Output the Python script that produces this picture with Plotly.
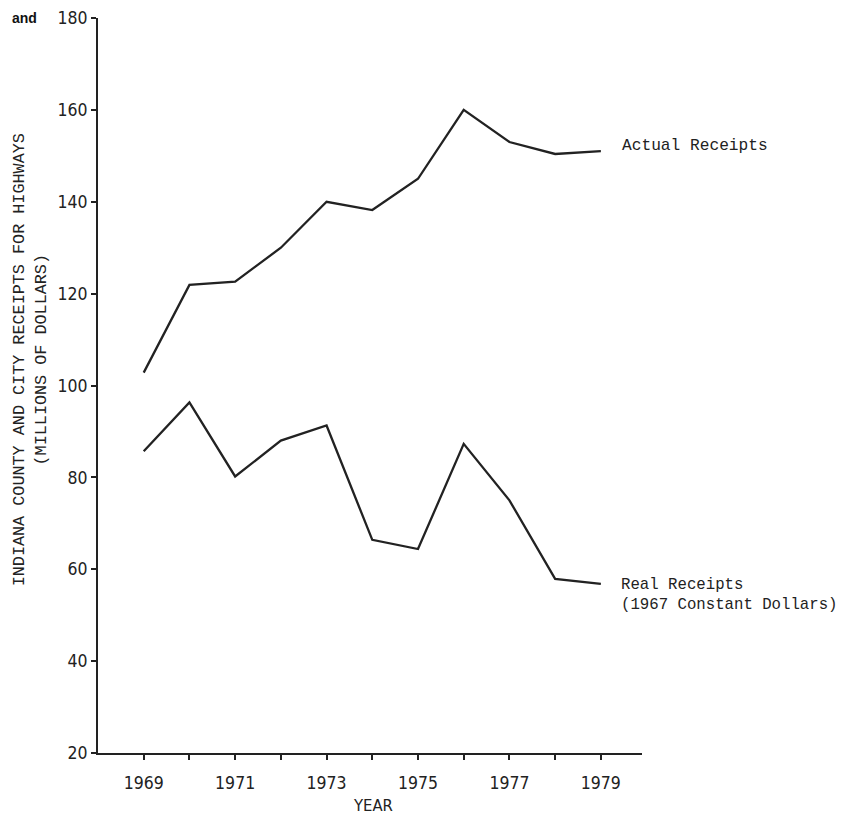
import plotly.graph_objects as go

years = [1969, 1970, 1971, 1972, 1973, 1974, 1975, 1976, 1977, 1978, 1979]
actual = [102.8, 121.9, 122.6, 130.0, 140.0, 138.2, 145.0, 160.0, 153.0, 150.4, 151.0]
real = [85.7, 96.3, 80.2, 88.0, 91.3, 66.4, 64.4, 87.3, 75.0, 57.9, 56.8]
xtick_vals = years
xtick_text = ["1969", "", "1971", "", "1973", "", "1975", "", "1977", "", "1979"]
ytick_vals = [20, 40, 60, 80, 100, 120, 140, 160, 180]

ink = "#222222"
mono = "Liberation Mono, DejaVu Sans Mono, monospace"
narrow = "DejaVu Sans Condensed, Liberation Sans Narrow, Liberation Sans, sans-serif"

fig = go.Figure()
fig.add_trace(go.Scatter(x=years, y=actual, mode="lines",
                         line=dict(color=ink, width=2.3), showlegend=False,
                         name="Actual Receipts"))
fig.add_trace(go.Scatter(x=years, y=real, mode="lines",
                         line=dict(color=ink, width=2.3), showlegend=False,
                         name="Real Receipts"))

fig.add_annotation(x=years[-1], y=actual[-1], xref="x", yref="y",
                   text="Actual Receipts", showarrow=False,
                   xanchor="left", xshift=19, yshift=5,
                   font=dict(family=mono, size=16.2, color=ink))
fig.add_annotation(x=years[-1], y=real[-1], xref="x", yref="y",
                   text="Real Receipts<br>(1967 Constant Dollars)", showarrow=False,
                   xanchor="left", xshift=18, yshift=-11, align="left",
                   font=dict(family=mono, size=15.7, color=ink))
fig.add_annotation(x=-0.124, y=0.535, xref="paper", yref="paper",
                   text="INDIANA COUNTY AND CITY RECEIPTS FOR HIGHWAYS<br>(MILLIONS OF DOLLARS)",
                   showarrow=False, textangle=-90, align="center",
                   xanchor="center", yanchor="middle",
                   font=dict(family=mono, size=16.8, color=ink))
fig.add_annotation(x=-0.161, y=1.0, xref="paper", yref="paper",
                   text="<b>and</b>", showarrow=False, xanchor="left", yanchor="middle",
                   font=dict(family="Liberation Sans, Arial, sans-serif", size=14, color="#111"))
fig.add_annotation(x=0.5046, y=-0.072, xref="paper", yref="paper",
                   text="YEAR", showarrow=False, xanchor="center", yanchor="middle",
                   font=dict(family=narrow, size=16.5, color=ink))

fig.update_layout(
    width=838, height=808,
    margin=dict(l=90, r=204, t=10, b=63),
    paper_bgcolor="white", plot_bgcolor="white",
    xaxis=dict(range=[1968.0, 1979.9], tickvals=xtick_vals, ticktext=xtick_text,
               showgrid=False, zeroline=False, showline=True, linecolor=ink, linewidth=2,
               ticks="outside", ticklen=5, tickwidth=2, tickcolor=ink,
               ticklabelstandoff=8, automargin=False,
               tickfont=dict(family=narrow, size=17.5, color=ink)),
    yaxis=dict(range=[20, 180], tickvals=ytick_vals,
               showgrid=False, zeroline=False, showline=True, linecolor=ink, linewidth=2,
               ticks="outside", ticklen=5, tickwidth=1.5, tickcolor=ink,
               automargin=False, ticklabeloverflow="allow",
               tickfont=dict(family=narrow, size=17.5, color=ink)),
)

fig.write_html("out.html")
